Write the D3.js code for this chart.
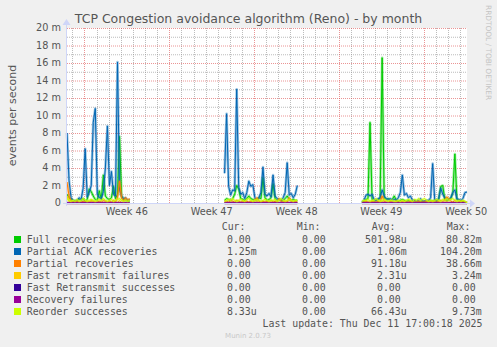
<!DOCTYPE html>
<html><head><meta charset="utf-8">
<script src="https://cdn.jsdelivr.net/npm/d3@7"></script>
<style>
html,body{margin:0;padding:0;background:#f0f0f0;}
svg{display:block;}
text{font-family:"DejaVu Sans",sans-serif;fill:#555;}
.mono{font-family:"DejaVu Sans Mono",monospace;white-space:pre;}
</style></head><body><svg id="c" width="497" height="347"></svg>
<script>
// ---------- data (values in milli-events per second) ----------
const seriesNames = ["Full recoveries","Partial ACK recoveries","Partial recoveries","Fast retransmit failures","Fast Retransmit successes","Recovery failures","Reorder successes"];
const seriesColors = ["#00cc00","#0066b3","#ff8000","#ffcc00","#330099","#990099","#ccff00"];
const startTime = Date.UTC(2025,10,8,13,30);
const endTime = Date.UTC(2025,11,11,13,30);
const stepHours = 4;
const segmentStarts = [0, 78, 146];   // sample index where each recorded stretch begins

const fullRecoveries = [
  [1.0,0.6,0.4,0.3,0.2,0.3,0.4,0.3,0.5,0.2,0.4,1.6,1.3,0.8,0.4,0.3,1.4,0.4,3.2,0.8,0.5,0.4,0.6,1.9,0.5,1.0,7.6,0.8,0.4,0.3,0.3,0.2],
  [0.3,0.5,0.4,0.3,0.5,1.0,2.0,1.6,0.5,0.4,0.3,0.5,0.8,0.5,0.4,0.3,0.4,0.6,0.5,2.9,0.6,0.3,0.4,0.6,2.2,0.5,0.3,0.4,0.3,0.3,0.5,0.8,0.4,0.3,0.4,0.3,0.3],
  [0.0,0.2,0.4,0.5,9.2,0.4,0.2,0.3,0.4,0.5,16.6,0.6,0.4,0.5,0.3,0.4,0.8,0.3,0.2,0.3,0.4,0.3,0.2,0.3,0.2,0.2,0.3,0.2,0.1,0.2,0.2,0.1,0.2,0.2,0.3,0.2,0.3,0.2,0.4,1.9,2.0,0.4,0.3,0.4,0.5,1.2,5.6,0.4,0.3,0.2,0.2,0.1,0.0]
];
const partialAckRecoveries = [
  [8.0,2.6,0.6,0.3,0.2,0.3,0.6,0.4,1.7,6.2,0.7,1.2,2.0,9.2,10.8,1.0,0.6,0.5,1.3,4.0,8.8,2.0,3.6,1.0,0.8,16.1,1.5,0.8,0.5,0.6,0.3,0.4],
  [3.4,10.2,1.9,0.9,1.5,1.4,13.0,1.8,1.0,1.2,0.5,1.2,2.5,1.9,2.1,0.6,0.4,0.6,1.2,4.1,1.0,0.8,1.1,0.7,3.2,0.8,0.5,0.4,0.3,0.6,1.2,4.6,0.9,1.1,0.6,1.0,2.0],
  [0.1,0.3,0.9,1.0,0.8,1.0,0.4,0.3,0.5,0.6,1.5,0.8,0.5,0.4,0.5,0.3,0.4,0.3,0.6,1.2,3.2,0.9,1.1,0.6,0.8,0.3,0.3,0.2,0.3,0.5,0.2,0.2,0.3,0.3,0.6,4.5,0.4,0.3,0.5,1.7,1.0,0.6,0.5,0.4,0.6,1.2,1.5,0.5,0.4,0.3,0.5,1.2,1.25]
];
const partialRecoveries = [
  [2.4,0.8,0.2,0.1,0.1,0.2,0.1,0.1,0.2,0.1,0.2,0.1,0.3,0.2,0.1,0.1,0.2,0.1,0.3,0.2,0.1,0.2,0.1,0.3,0.1,0.6,2.5,0.6,0.2,0.6,0.3,0.5],
  [0.1,0.2,0.1,0.3,0.2,0.1,0.3,0.2,0.1,0.2,0.1,0.2,0.1,0.2,0.1,0.3,0.6,0.2,0.1,0.2,0.1,0.2,0.1,0.3,0.1,0.2,0.1,0.5,0.2,0.1,0.2,0.1,0.6,0.2,0.1,0.2,0.1],
  [0.0,0.1,0.2,0.1,0.1,0.2,0.1,0.1,0.2,0.1,0.8,0.2,0.1,0.1,0.2,0.1,0.1,0.2,0.1,0.1,0.2,0.1,0.1,0.1,0.2,0.1,0.1,0.1,0.2,0.1,0.1,0.1,0.2,0.1,0.1,0.2,0.1,0.1,0.2,0.3,0.2,0.3,0.7,0.5,0.2,0.1,0.3,0.1,0.1,0.2,0.1,0.1,0.0]
];
const fastRetransmitFailures = [
  [0.8,0.2,0,0,0,0,0,0, 0,0,0,0,0.2,0,0,0, 0,0,0,0,0,0,0,0, 0,0,0.3,0,0,0,0,0],
  [0,0,0,0,0,0,0,0, 0,0,0,0,0,0,0,0, 0.2,0,0,0,0,0,0,0, 0,0,0,0,0,0,0,0, 0,0,0,0,0],
  [0,0,0,0,0,0,0,0, 0,0,0.2,0,0,0,0,0, 0,0,0,0,0,0,0,0, 0,0,0,0,0,0,0,0, 0,0,0,0,0,0,0,0, 0,0,0.2,0,0,0,0,0, 0,0,0,0,0]
];
const fastRetransmitSuccesses = [
  [0,0,0,0,0,0,0,0, 0,0,0,0,0,0,0,0, 0,0,0,0,0,0,0,0, 0,0,0,0,0,0,0,0],
  [0,0,0,0,0,0,0,0, 0,0,0,0,0,0,0,0, 0,0,0,0,0,0,0,0, 0,0,0,0,0,0,0,0, 0,0,0,0,0],
  [0,0,0,0,0,0,0,0, 0,0,0,0,0,0,0,0, 0,0,0,0,0,0,0,0, 0,0,0,0,0,0,0,0, 0,0,0,0,0,0,0,0, 0,0,0,0,0,0,0,0, 0,0,0,0,0]
];
const recoveryFailures = [
  [0,0,0,0,0,0,0,0, 0,0,0,0,0,0,0,0, 0,0,0,0,0,0,0,0, 0,0,0,0,0,0,0,0],
  [0,0,0,0,0,0,0,0, 0,0,0,0,0,0,0,0, 0,0,0,0,0,0,0,0, 0,0,0,0,0,0,0,0, 0,0,0,0,0],
  [0,0,0,0,0,0,0,0, 0,0,0,0,0,0,0,0, 0,0,0,0,0,0,0,0, 0,0,0,0,0,0,0,0, 0,0,0,0,0,0,0,0, 0,0,0,0,0,0,0,0, 0,0,0,0,0]
];
const reorderSuccesses = [
  [0.5,0.3,0.2,0.3,0.2,0.4,0.2,0.3,0.5,0.3,0.2,0.3,0.4,0.3,0.2,0.3,0.4,0.3,0.5,0.3,0.2,0.3,0.4,0.2,0.3,0.4,0.5,0.3,0.2,0.3,0.2,0.3],
  [0.2,0.3,0.4,0.3,0.5,0.3,0.2,0.3,0.4,0.3,0.2,0.4,0.5,0.3,0.2,0.3,0.4,0.3,0.2,0.3,0.4,0.3,0.2,0.3,0.3,0.4,0.2,0.3,0.5,0.3,0.2,0.3,0.4,0.3,0.2,0.3,0.3],
  [0.2,0.3,0.3,0.4,0.2,0.3,0.3,0.5,0.3,0.2,0.3,0.4,0.3,0.2,0.3,0.3,0.2,0.2,0.3,0.2,0.3,0.2,0.3,0.4,0.3,0.2,0.4,0.3,0.5,0.3,0.4,0.5,0.3,0.2,0.3,0.2,0.3,0.4,0.3,0.2,0.4,0.3,0.5,0.3,0.4,0.5,0.3,0.2,0.3,0.2,0.3,0.2,0.0083]
];
const seriesData = [fullRecoveries, partialAckRecoveries, partialRecoveries, fastRetransmitFailures, fastRetransmitSuccesses, recoveryFailures, reorderSuccesses];

const yTickValues = [0,2,4,6,8,10,12,14,16,18,20];
const yTickLabels = ["0","2 m","4 m","6 m","8 m","10 m","12 m","14 m","16 m","18 m","20 m"];
const weekLabels = ["Week 46","Week 47","Week 48","Week 49","Week 50"];

const legendCur = ["0.00 ","1.25m","0.00 ","0.00 ","0.00 ","0.00 ","8.33u"];
const legendMin = ["0.00 ","0.00 ","0.00 ","0.00 ","0.00 ","0.00 ","0.00 "];
const legendAvg = ["501.98u","1.06m","91.18u","2.31u","0.00 ","0.00 ","66.43u"];
const legendMax = ["80.82m","104.20m","38.66m","3.24m","0.00 ","0.00 ","9.73m"];

// ---------- layout ----------
const L = 67, R = 467, T = 28, B = 203;
const svg = d3.select("#c");
svg.append("rect").attr("width",497).attr("height",347).attr("fill","#f0f0f0");
svg.append("rect").attr("x",L).attr("y",T).attr("width",R-L).attr("height",B-T).attr("fill","#ffffff");

const x = d3.scaleUtc().domain([startTime,endTime]).range([L,R]);
const y = d3.scaleLinear().domain([0,20]).range([B,T]);

// grid
const g = svg.append("g");
const minorY = d3.range(1,20,2);
g.selectAll(".hmin").data(minorY).join("line")
  .attr("x1",L).attr("x2",R).attr("y1",d=>y(d)+0.5).attr("y2",d=>y(d)+0.5)
  .attr("stroke","#8f8f8f").attr("stroke-opacity",0.6).attr("stroke-dasharray","1,1");
const days = d3.utcDay.range(new Date(startTime), new Date(endTime)).filter(d=>d.getUTCDay()!==1);
g.selectAll(".vmin").data(days).join("line")
  .attr("x1",d=>Math.round(x(d))+0.5).attr("x2",d=>Math.round(x(d))+0.5).attr("y1",T).attr("y2",B)
  .attr("stroke","#8f8f8f").attr("stroke-opacity",0.6).attr("stroke-dasharray","1,1");
g.selectAll(".hmaj").data(yTickValues.slice(1)).join("line")
  .attr("x1",L).attr("x2",R).attr("y1",d=>y(d)+0.5).attr("y2",d=>y(d)+0.5)
  .attr("stroke","#de4f4f").attr("stroke-opacity",0.6).attr("stroke-dasharray","1,1");
const mondays = d3.utcMonday.range(new Date(startTime), new Date(endTime));
g.selectAll(".vmaj").data(mondays).join("line")
  .attr("x1",d=>Math.round(x(d))+0.5).attr("x2",d=>Math.round(x(d))+0.5).attr("y1",T).attr("y2",B)
  .attr("stroke","#de4f4f").attr("stroke-opacity",0.6).attr("stroke-dasharray","1,1");

// series
const stepMs = stepHours*3600*1000;
const lineGen = d3.line().x(d=>x(d.t)).y(d=>y(d.v));
const plot = svg.append("g");
seriesData.forEach((segs,i)=>{
  segs.forEach((seg,si)=>{
    const pts = seg.map((v,k)=>({t:startTime+(segmentStarts[si]+k)*stepMs, v}));
    plot.append("path").attr("d",lineGen(pts)).attr("fill","none")
      .attr("stroke",seriesColors[i]).attr("stroke-opacity",0.4).attr("stroke-width",2.6).attr("stroke-linejoin","round");
    plot.append("path").attr("d",lineGen(pts)).attr("fill","none")
      .attr("stroke",seriesColors[i]).attr("stroke-width",1);
  });
});

// axes
const axisCol = "#cfd6f8";
svg.append("line").attr("x1",63).attr("x2",470).attr("y1",B+0.5).attr("y2",B+0.5).attr("stroke",axisCol);
svg.append("line").attr("x1",L-0.5).attr("x2",L-0.5).attr("y1",B+3).attr("y2",24).attr("stroke",axisCol);
svg.append("path").attr("d","M470,199.5L475,203.5L470,207.5Z").attr("fill",axisCol);
svg.append("path").attr("d","M62.5,25L66.5,19L70.5,25Z").attr("fill",axisCol);

// y labels
svg.selectAll(".yl").data(yTickValues).join("text")
  .attr("x",61).attr("y",d=>y(d)).attr("dy","0.35em").attr("text-anchor","end")
  .attr("font-size","9.72px").text((d,i)=>yTickLabels[i]);

// x labels
const weekCenters = d3.utcMonday.range(new Date(startTime - 7*864e5), new Date(endTime))
  .map(d=>+d + 3.5*864e5).filter(t=>t>=startTime && t<=endTime);
svg.selectAll(".xl").data(weekCenters).join("text")
  .attr("x",d=>x(d)).attr("y",212).attr("dy","0.35em").attr("text-anchor","middle")
  .attr("font-size","9.72px").text((d,i)=>weekLabels[i]);

// title
svg.append("text").attr("x",248.5).attr("y",19).attr("dy","0.35em").attr("text-anchor","middle")
  .attr("font-size","12.5px").text("TCP Congestion avoidance algorithm (Reno) - by month");
// y title
svg.append("text").attr("transform","translate(12,115.5) rotate(-90)").attr("dy","0.35em")
  .attr("text-anchor","middle").attr("font-size","11px").text("events per second");
// watermark
svg.append("text").attr("transform","translate(485.5,5) rotate(90)")
  .attr("font-size","7.4px").style("fill","#c4c4c4").text("RRDTOOL / TOBI OETIKER");

// legend
const lg = svg.append("g");
const headX = [221.7,296.7,371.7,446.7];
["Cur:","Min:","Avg:","Max:"].forEach((h,i)=>{
  lg.append("text").attr("class","mono").attr("x",headX[i]).attr("y",226.7).attr("dy","0.35em")
    .attr("font-size","9.9px").text(h);
});
const colEnds = [256.7,331.7,406.7,481.7];
const cols = [legendCur,legendMin,legendAvg,legendMax];
seriesNames.forEach((name,i)=>{
  const cy = 239.5 + i*12;
  lg.append("rect").attr("x",14).attr("y",cy-3.5).attr("width",7).attr("height",7).attr("fill",seriesColors[i]);
  lg.append("text").attr("class","mono").attr("x",26.7).attr("y",cy).attr("dy","0.35em")
    .attr("font-size","9.9px").text(name);
  cols.forEach((c,j)=>{
    lg.append("text").attr("class","mono").attr("x",colEnds[j]).attr("y",cy).attr("dy","0.35em")
      .attr("text-anchor","end").attr("font-size","9.9px").text(c[i]);
  });
});
lg.append("text").attr("class","mono").attr("x",482.5).attr("y",323.3).attr("dy","0.35em")
  .attr("text-anchor","end").attr("font-size","9.9px").text("Last update: Thu Dec 11 17:00:18 2025");
svg.append("text").attr("x",248).attr("y",336).attr("dy","0.35em").attr("text-anchor","middle")
  .attr("font-size","7px").style("fill","#c8c8c8").text("Munin 2.0.73");
</script></body></html>
